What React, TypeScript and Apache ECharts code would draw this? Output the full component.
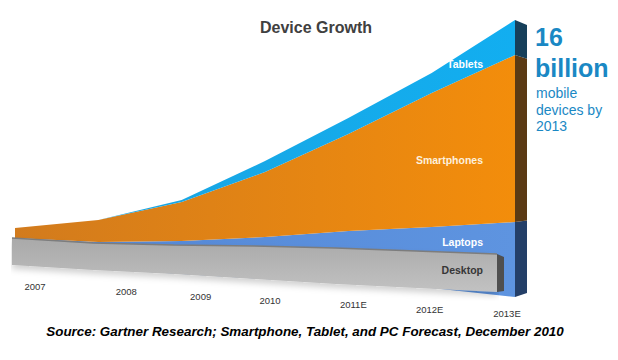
import React, { useEffect, useRef } from "react";
import * as echarts from "echarts";

// ---- data (arbitrary units, ~10 px per unit) ----
const years = ["2007", "2008", "2009", "2010", "2011E", "2012E", "2013E"];
// hidden offsets that tilt the floor of the perspective drawing
const backFloor = [3.6, 3.1, 2.6, 2.1, 1.7, 1.2, 0.3];
const frontFloor = [3.5, 3.0, 2.6, 2.1, 1.6, 1.2, 0.8];
const laptops = [2.6, 2.7, 3.3, 4.2, 5.2, 6.1, 7.5];
const smartphones = [1.0, 2.2, 3.9, 6.5, 9.7, 13.4, 16.7];
const tablets = [0, 0, 0.2, 1.1, 1.6, 2.0, 3.5];
const desktop = [2.7, 2.7, 2.9, 3.3, 3.6, 3.7, 3.8];

// layout of the slanted year labels (pixels): horizontal shift, target centre y
const LABEL_DX = [20, 28, 19, 5, 5, -2, -8];
const LABEL_Y = [286.5, 291.5, 296.5, 300.5, 304.5, 309.5, 313.5];
const AXIS_Y = 275;

const FONT = "'Liberation Sans', Arial, Helvetica, sans-serif";

export default function App() {
  const ref = useRef<HTMLDivElement>(null);

  useEffect(() => {
    if (!ref.current) return;
    const chart = echarts.init(ref.current, undefined, { renderer: "svg" });
    const last = years.length - 1;

    const cumLap = backFloor[last] + laptops[last];
    const cumSmart = cumLap + smartphones[last];
    const cumTab = cumSmart + tablets[last];

    const rich: Record<string, any> = {};
    years.forEach((_, i) => {
      const dx = LABEL_DX[i];
      const padTop = Math.max(0, 2 * (LABEL_Y[i] - AXIS_Y) - 11);
      rich["l" + i] = {
        fontSize: 9.5,
        fontFamily: FONT,
        color: "#333",
        lineHeight: 11,
        padding: [padTop, dx < 0 ? -2 * dx : 0, 0, dx > 0 ? 2 * dx : 0],
      };
    });

    const sideFace = (depth: number, dTop: number, dBot: number, yTop: number, yBot: number) =>
      (params: any, api: any) => {
        const idx = api.value(0);
        const lo = api.coord([idx, api.value(1)]);
        const hi = api.coord([idx, api.value(2)]);
        const dy = (y: number) => dTop + (dBot - dTop) * (y - yTop) / (yBot - yTop);
        return {
          type: "polygon",
          shape: {
            points: [
              lo,
              hi,
              [hi[0] + depth, hi[1] + dy(hi[1])],
              [lo[0] + depth, lo[1] + dy(lo[1])],
            ],
          },
          style: { fill: api.visual("color") },
        };
      };

    const hGrad = (a: string, b: string) =>
      new echarts.graphic.LinearGradient(0, 0, 1, 0, [
        { offset: 0, color: a },
        { offset: 1, color: b },
      ]);

    const base = {
      type: "line",
      showSymbol: false,
      symbol: "none",
      silent: true,
      lineStyle: { width: 0 },
    };

    chart.setOption({
      animation: false,
      backgroundColor: "#ffffff",
      grid: [
        { left: 15, width: 500, top: 10, height: 290, containLabel: false, outerBoundsMode: "none" },
        { left: 12, width: 485, top: 10, height: 290, containLabel: false, outerBoundsMode: "none" },
      ],
      xAxis: [
        {
          gridIndex: 0,
          type: "category",
          data: years,
          boundaryGap: false,
          offset: -(300 - AXIS_Y),
          axisLine: { show: false },
          axisTick: { show: false },
          splitLine: { show: false },
          axisLabel: {
            interval: 0,
            margin: 0,
            hideOverlap: false,
            formatter: (v: string, i: number) => `{l${i}|${v}}`,
            rich,
          },
        },
        {
          gridIndex: 1,
          type: "category",
          data: years,
          boundaryGap: false,
          show: false,
        },
      ],
      yAxis: [
        { gridIndex: 0, type: "value", min: 0, max: 29, show: false },
        { gridIndex: 1, type: "value", min: 0, max: 29, show: false },
      ],
      series: [
        { ...base, name: "floorBack", stack: "back", data: backFloor, areaStyle: { opacity: 0 }, z: 1 },
        {
          ...base, name: "Laptops", stack: "back", data: laptops, z: 1,
          areaStyle: { color: hGrad("#5386d4", "#5e94e0"), opacity: 1 },
        },
        {
          ...base, name: "Smartphones", stack: "back", data: smartphones, z: 1,
          areaStyle: { color: hGrad("#d27b1d", "#f38d0b"), opacity: 1 },
        },
        {
          ...base, name: "Tablets", stack: "back", data: tablets, z: 1,
          areaStyle: { color: hGrad("#1ba3df", "#12aef0"), opacity: 1 },
        },
        {
          type: "custom",
          name: "backSide",
          xAxisIndex: 0,
          yAxisIndex: 0,
          silent: true,
          z: 1,
          encode: { x: 0, y: [1, 2] },
          renderItem: sideFace(12, 5, -4, 20, 297),
          data: [
            { value: [last, backFloor[last], cumLap], itemStyle: { color: "#243f68" } },
            { value: [last, cumLap, cumSmart], itemStyle: { color: "#5b3a14" } },
            { value: [last, cumSmart, cumTab], itemStyle: { color: "#163f5a" } },
          ],
        },
        {
          ...base, name: "floorFront", stack: "front", data: frontFloor,
          xAxisIndex: 1, yAxisIndex: 1, areaStyle: { opacity: 0 }, z: 3,
        },
        {
          ...base, name: "Desktop", stack: "front", data: desktop,
          xAxisIndex: 1, yAxisIndex: 1, z: 3,
          lineStyle: { width: 1.5, color: "#7d7d7d" },
          areaStyle: {
            opacity: 1,
            color: new echarts.graphic.LinearGradient(0, 0, 0, 1, [
              { offset: 0, color: "#a9a9a9" },
              { offset: 0.5, color: "#b5b5b5" },
              { offset: 1, color: "#c2c2c2" },
            ]),
            shadowColor: "rgba(0,0,0,0.18)",
            shadowBlur: 6,
            shadowOffsetY: 4,
          },
        },
        {
          type: "custom",
          name: "desktopSide",
          xAxisIndex: 1,
          yAxisIndex: 1,
          silent: true,
          z: 3,
          encode: { x: 0, y: [1, 2] },
          renderItem: sideFace(7, 3, -1, 254, 292),
          data: [
            { value: [last, frontFloor[last], frontFloor[last] + desktop[last]], itemStyle: { color: "#4f4f4f" } },
          ],
        },
      ],
      graphic: [
        {
          type: "text", x: 316, y: 27, z: 10,
          style: { text: "Device Growth", font: `bold 16px ${FONT}`, fill: "#404040", textAlign: "center", textVerticalAlign: "middle" },
        },
        {
          type: "text", x: 483, y: 64, z: 10,
          style: { text: "Tablets", font: `bold 10.5px ${FONT}`, fill: "#ffffff", textAlign: "right", textVerticalAlign: "middle" },
        },
        {
          type: "text", x: 483, y: 160, z: 10,
          style: { text: "Smartphones", font: `bold 10.5px ${FONT}`, fill: "#fdf0dc", textAlign: "right", textVerticalAlign: "middle" },
        },
        {
          type: "text", x: 483, y: 242, z: 10,
          style: { text: "Laptops", font: `bold 10.5px ${FONT}`, fill: "#ffffff", textAlign: "right", textVerticalAlign: "middle" },
        },
        {
          type: "text", x: 483, y: 270, z: 10,
          style: { text: "Desktop", font: `bold 10.5px ${FONT}`, fill: "#363636", textAlign: "right", textVerticalAlign: "middle" },
        },
        {
          type: "text", x: 535, y: 37, z: 10,
          style: { text: "16", font: `bold 25px ${FONT}`, fill: "#1a88c4", textAlign: "left", textVerticalAlign: "middle" },
        },
        {
          type: "text", x: 535, y: 68, z: 10,
          style: { text: "billion", font: `bold 25px ${FONT}`, fill: "#1a88c4", textAlign: "left", textVerticalAlign: "middle" },
        },
        {
          type: "text", x: 536, y: 93, z: 10,
          style: { text: "mobile", font: `14px ${FONT}`, fill: "#1a88c4", textAlign: "left", textVerticalAlign: "middle" },
        },
        {
          type: "text", x: 536, y: 110, z: 10,
          style: { text: "devices by", font: `14px ${FONT}`, fill: "#1a88c4", textAlign: "left", textVerticalAlign: "middle" },
        },
        {
          type: "text", x: 536, y: 126, z: 10,
          style: { text: "2013", font: `14px ${FONT}`, fill: "#1a88c4", textAlign: "left", textVerticalAlign: "middle" },
        },
        {
          type: "text", x: 305, y: 331, z: 10,
          style: {
            text: "Source: Gartner Research; Smartphone, Tablet, and PC Forecast, December 2010",
            font: `italic bold 13.4px ${FONT}`, fill: "#000000", textAlign: "center", textVerticalAlign: "middle",
          },
        },
      ],
    });

    return () => chart.dispose();
  }, []);

  return (
    <div style={{ position: "absolute", left: 0, top: 0, width: 618, height: 360, background: "#fff" }}>
      <div ref={ref} style={{ width: 618, height: 360 }} />
    </div>
  );
}
